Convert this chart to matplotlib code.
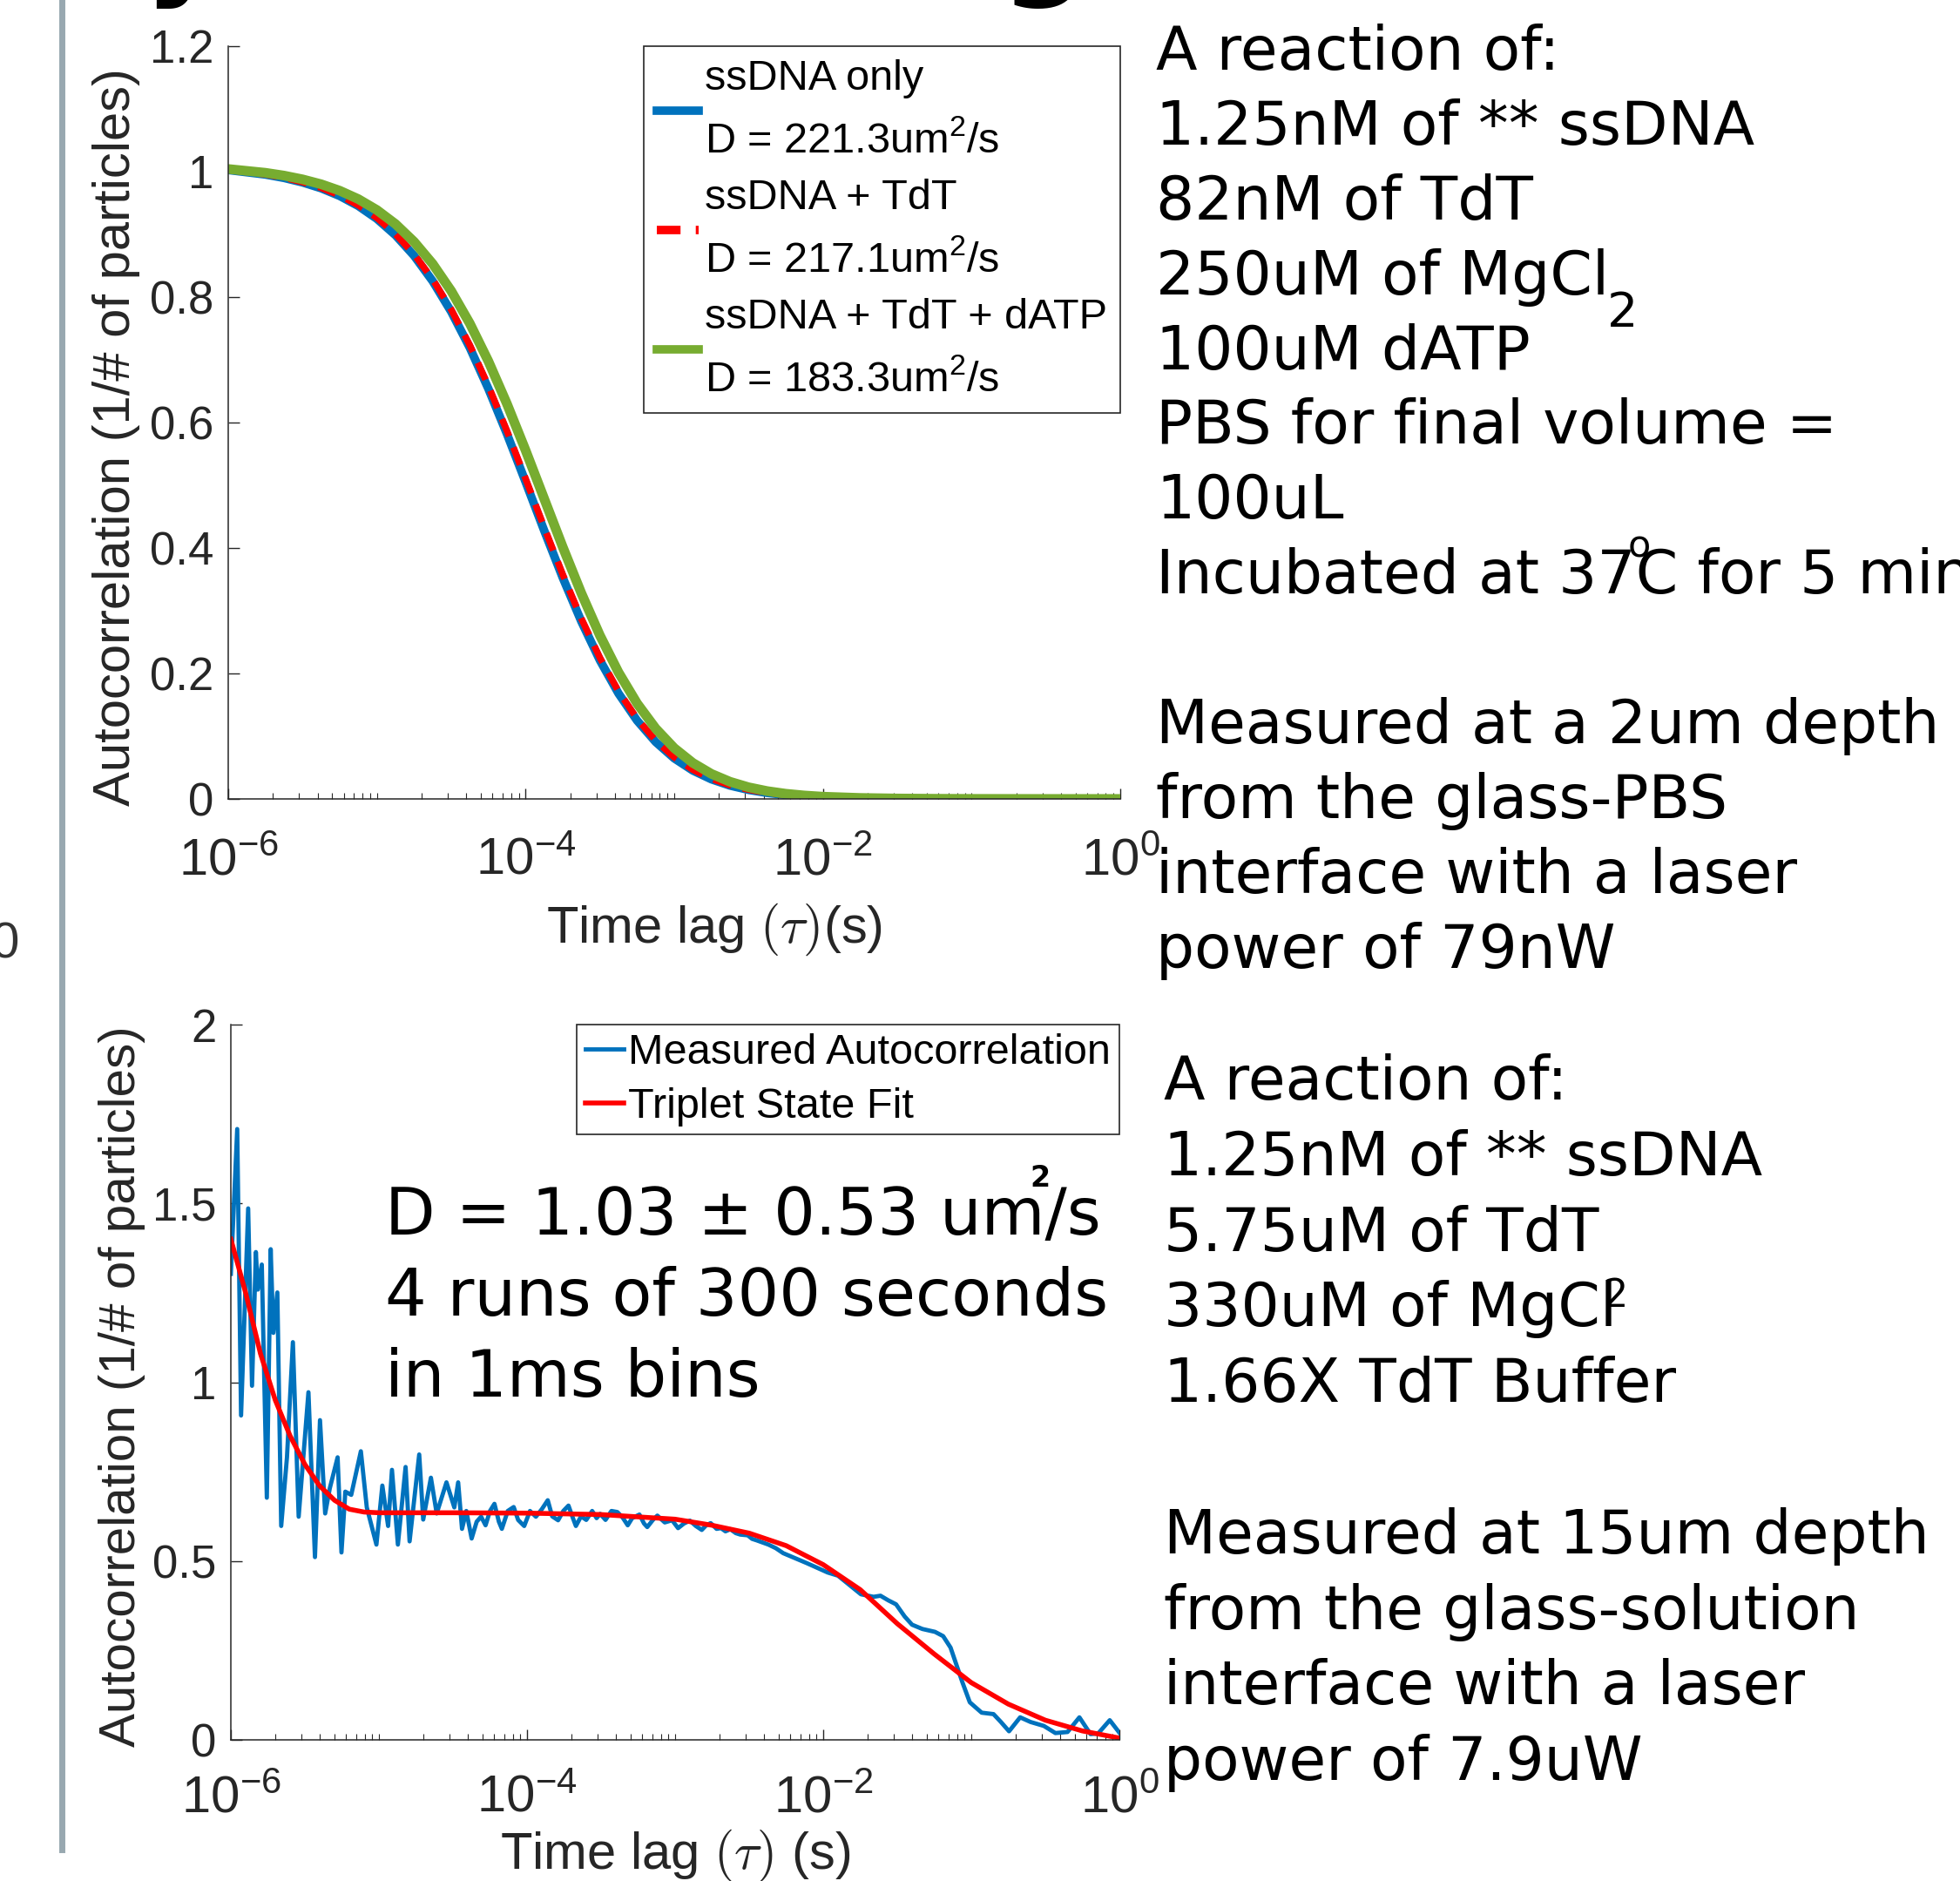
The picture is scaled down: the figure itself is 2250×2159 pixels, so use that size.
import numpy as np
import matplotlib
matplotlib.use("Agg")
import matplotlib.pyplot as plt
from matplotlib.lines import Line2D
from matplotlib.ticker import LogLocator, NullFormatter

plt.rcParams['font.family'] = ['Liberation Sans', 'DejaVu Sans']
plt.rcParams['mathtext.fontset'] = 'cm'

# ---------------- data ----------------
# top panel: fitted autocorrelation curves, x given as log10(tau / s)
top_logtau = [-6.0, -5.75, -5.625, -5.5, -5.375, -5.25, -5.125, -5.0, -4.875, -4.75,
              -4.625, -4.5, -4.375, -4.25, -4.125, -4.0, -3.875, -3.75, -3.625, -3.5,
              -3.375, -3.25, -3.125, -3.0, -2.875, -2.75, -2.625, -2.5, -2.375, -2.25,
              -2.125, -2.0, -1.75, -1.5, -1.25, -1.0, -0.5, 0.0]
ssdna_only = [1.0026, 0.9954, 0.9900, 0.9828, 0.9735, 0.9612, 0.9453, 0.9248, 0.8987, 0.8660,
              0.8255, 0.7767, 0.7193, 0.6538, 0.5817, 0.5054, 0.4279, 0.3527, 0.2830, 0.2210,
              0.1682, 0.1250, 0.0909, 0.0647, 0.0453, 0.0313, 0.0213, 0.0144, 0.0096, 0.0064,
              0.0042, 0.0028, 0.0012, 0.0005, 0.0002, 0.0001, 0.0, 0.0]
ssdna_tdt = [1.0028, 0.9957, 0.9904, 0.9833, 0.9742, 0.9621, 0.9464, 0.9263, 0.9006, 0.8683,
             0.8284, 0.7801, 0.7233, 0.6584, 0.5867, 0.5106, 0.4332, 0.3578, 0.2877, 0.2251,
             0.1717, 0.1278, 0.0931, 0.0664, 0.0466, 0.0322, 0.0219, 0.0148, 0.0099, 0.0066,
             0.0043, 0.0029, 0.0012, 0.0005, 0.0002, 0.0001, 0.0, 0.0]
ssdna_tdt_datp = [1.0042, 0.9982, 0.9937, 0.9877, 0.9799, 0.9696, 0.9562, 0.9388, 0.9165, 0.8882,
                  0.8530, 0.8097, 0.7580, 0.6977, 0.6297, 0.5558, 0.4787, 0.4016, 0.3280, 0.2607,
                  0.2018, 0.1523, 0.1123, 0.0810, 0.0574, 0.0399, 0.0274, 0.0186, 0.0125, 0.0083,
                  0.0055, 0.0036, 0.0016, 0.0007, 0.0003, 0.0001, 0.0, 0.0]
top_labels = ["ssDNA only\nD = 221.3um$\\mathregular{^2}$/s",
              "ssDNA + TdT\nD = 217.1um$\\mathregular{^2}$/s",
              "ssDNA + TdT + dATP\nD = 183.3um$\\mathregular{^2}$/s"]
top_yticks = [0, 0.2, 0.4, 0.6, 0.8, 1.0, 1.2]
top_yticklabels = ["0", "0.2", "0.4", "0.6", "0.8", "1", "1.2"]
x_ticks = [1e-6, 1e-4, 1e-2, 1.0]
x_ticklabels = [r"$\mathregular{10^{-6}}$", r"$\mathregular{10^{-4}}$",
                r"$\mathregular{10^{-2}}$", r"$\mathregular{10^{0}}$"]

# bottom panel: measured autocorrelation and triplet-state fit
meas_logtau = [
    -6.000, -5.957, -5.931, -5.883, -5.857, -5.831, -5.818, -5.791, -5.757, -5.731,
    -5.713, -5.686, -5.660, -5.621, -5.581, -5.542, -5.476, -5.432, -5.398, -5.363,
    -5.332, -5.279, -5.253, -5.227, -5.187, -5.122, -5.082, -5.017, -4.977, -4.938,
    -4.912, -4.872, -4.820, -4.793, -4.728, -4.701, -4.649, -4.610, -4.544, -4.491,
    -4.465, -4.439, -4.410, -4.374, -4.340, -4.310, -4.280, -4.250, -4.220, -4.190,
    -4.170, -4.130, -4.090, -4.060, -4.019, -3.980, -3.940, -3.900, -3.860, -3.830,
    -3.790, -3.755, -3.720, -3.690, -3.670, -3.635, -3.600, -3.560, -3.530, -3.506,
    -3.470, -3.430, -3.390, -3.355, -3.320, -3.290, -3.241, -3.210, -3.188, -3.150,
    -3.120, -3.070, -3.020, -2.980, -2.940, -2.900, -2.860, -2.820, -2.790, -2.760,
    -2.720, -2.690, -2.660, -2.627, -2.590, -2.560, -2.510, -2.480, -2.450, -2.410,
    -2.370, -2.320, -2.270, -2.230, -2.190, -2.110, -2.035, -1.970, -1.900, -1.820,
    -1.745, -1.660, -1.613, -1.560, -1.508, -1.450, -1.400, -1.330, -1.245, -1.190,
    -1.140, -1.060, -1.010, -0.930, -0.850, -0.800, -0.745, -0.670, -0.600, -0.510,
    -0.432, -0.350, -0.270, -0.195, -0.143, -0.065, 0.000]
meas_g = [
    1.303, 1.708, 0.907, 1.486, 0.990, 1.364, 1.259, 1.329, 0.677, 1.372,
    1.138, 1.251, 0.598, 0.790, 1.112, 0.624, 0.972, 0.511, 0.894, 0.633,
    0.703, 0.790, 0.524, 0.694, 0.685, 0.807, 0.650, 0.546, 0.711, 0.598,
    0.755, 0.546, 0.763, 0.555, 0.798, 0.616, 0.733, 0.633, 0.720, 0.650,
    0.720, 0.590, 0.640, 0.563, 0.610, 0.624, 0.600, 0.640, 0.660, 0.610,
    0.590, 0.640, 0.651, 0.615, 0.598, 0.640, 0.624, 0.645, 0.670, 0.625,
    0.614, 0.640, 0.655, 0.620, 0.598, 0.625, 0.615, 0.640, 0.620, 0.632,
    0.615, 0.640, 0.637, 0.622, 0.600, 0.620, 0.630, 0.605, 0.595, 0.615,
    0.627, 0.608, 0.614, 0.592, 0.605, 0.613, 0.598, 0.587, 0.600, 0.606,
    0.590, 0.592, 0.583, 0.589, 0.578, 0.574, 0.572, 0.562, 0.558, 0.552,
    0.546, 0.536, 0.522, 0.515, 0.508, 0.494, 0.480, 0.468, 0.459, 0.432,
    0.407, 0.400, 0.403, 0.390, 0.379, 0.345, 0.322, 0.310, 0.302, 0.290,
    0.258, 0.161, 0.105, 0.076, 0.072, 0.050, 0.024, 0.063, 0.050, 0.039,
    0.019, 0.022, 0.063, 0.016, 0.018, 0.055, 0.020]
fit_logtau = [-6.00, -5.90, -5.80, -5.70, -5.60, -5.50, -5.40, -5.30, -5.20, -5.10,
              -5.00, -4.50, -4.00, -3.50, -3.00, -2.75, -2.50, -2.25, -2.00, -1.75,
              -1.50, -1.25, -1.00, -0.75, -0.50, -0.25, 0.00]
fit_g = [1.40, 1.25, 1.08, 0.95, 0.85, 0.77, 0.71, 0.67, 0.645, 0.637,
         0.635, 0.635, 0.634, 0.630, 0.617, 0.600, 0.578, 0.543, 0.490, 0.420,
         0.325, 0.240, 0.160, 0.100, 0.055, 0.025, 0.005]
bottom_labels = ["Measured Autocorrelation", "Triplet State Fit"]
bot_yticks = [0, 0.5, 1.0, 1.5, 2.0]
bot_yticklabels = ["0", "0.5", "1", "1.5", "2"]

block1 = ["A reaction of:", "1.25nM of ** ssDNA", "82nM of TdT", "250uM of MgCl",
          "100uM dATP", "PBS for final volume =", "100uL", "Incubated at 37C for 5 min",
          "", "Measured at a 2um depth", "from the glass-PBS",
          "interface with a laser", "power of 79nW"]
block2 = ["A reaction of:", "1.25nM of ** ssDNA", "5.75uM of TdT", "330uM of MgCl",
          "1.66X TdT Buffer", "", "Measured at 15um depth", "from the glass-solution",
          "interface with a laser", "power of 7.9uW"]
annot_lines = ["D = 1.03 \u00b1 0.53 um/s", "4 runs of 300 seconds", "in 1ms bins"]

# ---------------- figure ----------------
W, H = 2250, 2159
fig = plt.figure(figsize=(W / 100, H / 100), dpi=100)
fig.patch.set_facecolor('white')

AX_COL = '#262626'
BLUE, RED, GREEN = '#0072BD', '#FF0000', '#77AC30'


def fx(px):
    return px / W


def fy(py):
    return 1 - py / H


def style_axes(ax, xpad, yticks, yticklabels):
    for s in ('top', 'right'):
        ax.spines[s].set_visible(False)
    for s in ('left', 'bottom'):
        ax.spines[s].set_color(AX_COL)
        ax.spines[s].set_linewidth(1.1)
    ax.set_xscale('log')
    ax.set_xlim(1e-6, 1)
    ax.set_xticks(x_ticks, x_ticklabels, fontsize=43)
    ax.xaxis.set_minor_locator(LogLocator(base=10, subs=np.arange(1, 10), numticks=50))
    ax.xaxis.set_minor_formatter(NullFormatter())
    ax.set_yticks(yticks, yticklabels, fontsize=38)
    ax.tick_params(which='major', direction='in', length=9, width=1.0, colors=AX_COL)
    ax.tick_params(which='minor', direction='in', length=5, width=0.8, colors=AX_COL)
    ax.tick_params(axis='y', pad=12)
    ax.tick_params(axis='x', pad=xpad)
    ax.patch.set_alpha(0)


# ---- top panel ----
ax1 = fig.add_axes([fx(262), fy(917), 1024 / W, 864 / H])
t_top = 10.0 ** np.array(top_logtau)
ax1.plot(t_top, ssdna_only, color=BLUE, lw=7, label=top_labels[0])
ax1.plot(t_top, ssdna_tdt, color=RED, lw=5.5, ls=(0, (2.8, 1.8)), label=top_labels[1])
ax1.plot(t_top, ssdna_tdt_datp, color=GREEN, lw=8, label=top_labels[2])
ax1.set_ylim(0, 1.2)
style_axes(ax1, 32, top_yticks, top_yticklabels)
ax1.set_xlabel(r"Time lag $(\tau)$(s)", fontsize=43, color=AX_COL, va='center')
ax1.xaxis.set_label_coords(0.545, -0.173)
ax1.set_ylabel("Autocorrelation (1/# of particles)", fontsize=43, color=AX_COL, va='center')
ax1.yaxis.set_label_coords(-0.125, 0.481)
leg1 = ax1.legend(loc='upper right', bbox_to_anchor=(1.0, 1.0), borderaxespad=0,
                  fancybox=False, edgecolor=AX_COL, framealpha=1, fontsize=35,
                  handlelength=1.0, handletextpad=0.15, borderpad=0.3, labelspacing=0.42)
leg1.get_frame().set_linewidth(1.2)
for t in leg1.get_texts():
    t.set_linespacing(1.72)
for h in leg1.get_lines():
    h.set_linewidth(7)

# ---- bottom panel ----
ax2 = fig.add_axes([fx(265), fy(1997), 1020 / W, 821 / H])
ax2.plot(10.0 ** np.array(meas_logtau), meas_g, color=BLUE, lw=3.5, label=bottom_labels[0])
ax2.plot(10.0 ** np.array(fit_logtau), fit_g, color=RED, lw=4, label=bottom_labels[1])
ax2.set_ylim(0, 2)
style_axes(ax2, 29, bot_yticks, bot_yticklabels)
ax2.set_xlabel(r"Time lag $(\tau)$ (s)", fontsize=43, color=AX_COL, va='center')
ax2.xaxis.set_label_coords(0.5, -0.162)
ax2.set_ylabel("Autocorrelation (1/# of particles)", fontsize=42, color=AX_COL, va='center')
ax2.yaxis.set_label_coords(-0.1225, 0.494)
leg2 = ax2.legend(loc='upper right', bbox_to_anchor=(1.0, 1.0), borderaxespad=0,
                  fancybox=False, edgecolor=AX_COL, framealpha=1, fontsize=35,
                  handlelength=0.9, handletextpad=0.12, borderpad=0.2, labelspacing=0.35)
leg2.get_frame().set_linewidth(1.2)

# in-plot annotation (bottom)
for i, s in enumerate(annot_lines):
    fig.text(fx(442), fy(1417 + 93 * i), s, fontsize=54, family='DejaVu Sans',
             va='baseline', ha='left', color='black')
fig.text(fx(1194), fy(1353), "2", fontsize=24, weight='bold', family='DejaVu Sans',
         ha='center', va='center', color='black')

# right-hand text blocks
for i, s in enumerate(block1):
    if s:
        fig.text(fx(1327), fy(80 + 85.9 * i), s, fontsize=50, family='DejaVu Sans',
                 va='baseline', ha='left', color='black')
fig.text(fx(1863), fy(360), "2", fontsize=40, family='DejaVu Sans',
         ha='center', va='center', color='black')
fig.text(fx(1882), fy(627), "o", fontsize=31, family='DejaVu Sans',
         ha='center', va='center', color='black')
for i, s in enumerate(block2):
    if s:
        fig.text(fx(1336), fy(1262 + 86.8 * i), s, fontsize=50, family='DejaVu Sans',
                 va='baseline', ha='left', color='black')
fig.text(fx(1855), fy(1488), "2", fontsize=32, family='DejaVu Sans',
         ha='center', va='center', color='black')

# slide decorations: divider line, neighbouring tick label and cut-off title letters
fig.add_artist(Line2D([fx(71), fx(71)], [1, fy(2123)], color='#98a8b0', lw=5))
fig.text(fx(6), fy(1085), "0", fontsize=42, color='#333333', ha='center', va='center')
fig.text(fx(165), fy(-20), "y", fontsize=100, weight='bold', family='DejaVu Sans',
         va='baseline', ha='left', color='black')
fig.text(fx(1149), fy(-20), "g", fontsize=100, weight='bold', family='DejaVu Sans',
         va='baseline', ha='left', color='black')

fig.savefig("out.png", dpi=100, facecolor='white')
